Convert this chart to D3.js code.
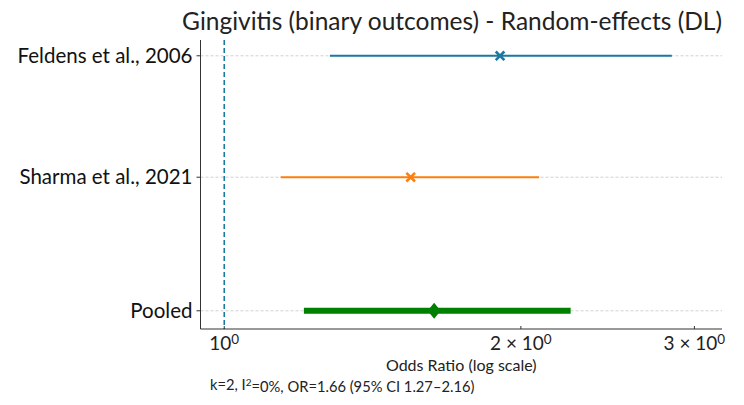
<!DOCTYPE html>
<html>
<head>
<meta charset="utf-8">
<script src="https://cdn.jsdelivr.net/npm/d3@7"></script>
<style>
  body { margin: 0; background: #fff; }
  svg { font-family: Lato, "Noto Sans", sans-serif; }
</style>
</head>
<body>
<div id="chart"></div>
<script>
"use strict";

// === DATA ===
const studies = ["Feldens et al., 2006", "Sharma et al., 2021"];
const studyOR = [1.905, 1.546];
const studyLower = [1.280, 1.141];
const studyUpper = [2.846, 2.087];
const studyColors = ["#1b78a0", "#ff7f0e"];

const pooledLabel = "Pooled";
const pooledOR = 1.633;
const pooledLower = 1.213;
const pooledUpper = 2.231;

const xTicks = [1, 2, 3];
const xTickMant = ["1", "2 × 1", "3 × 1"]; // followed by "0" and superscript "0"

const titleText = "Gingivitis (binary outcomes) - Random-effects (DL)";
const xLabel = "Odds Ratio (log scale)";
const footnote = ["k=2, I", "2", "=0%, OR=1.66 (95% CI 1.27–2.16)"];

// === SVG SETUP ===
const width = 744, height = 405;
const plot = { left: 200.5, right: 722, top: 40, bottom: 329 };

const svg = d3.select("#chart")
  .append("svg")
  .attr("width", width)
  .attr("height", height);

// === SCALES ===
const x = d3.scaleLog()
  .domain([0.946, 3.20])
  .range([plot.left, plot.right]);

const y = d3.scaleLinear()
  .domain([-0.13, 2.25])
  .range([plot.top, plot.bottom]);

const rows = studies.map((s, i) => ({
  label: s, or: studyOR[i], lo: studyLower[i], hi: studyUpper[i], color: studyColors[i], pos: i
}));
const pooledPos = studies.length + 0.1;
const allRows = rows.concat([{ label: pooledLabel, pos: pooledPos }]);

// === GRID (dashed horizontal lines) ===
svg.append("g")
  .selectAll("line")
  .data(allRows)
  .enter()
  .append("line")
  .attr("x1", plot.left)
  .attr("x2", plot.right)
  .attr("y1", d => y(d.pos))
  .attr("y2", d => y(d.pos))
  .attr("stroke", "#c4c4c4")
  .attr("stroke-width", 0.8)
  .attr("stroke-dasharray", "3,2");

// === REFERENCE LINE at OR = 1 ===
svg.append("line")
  .attr("x1", x(1))
  .attr("x2", x(1))
  .attr("y1", plot.top)
  .attr("y2", plot.bottom)
  .attr("stroke", "#1b78a0")
  .attr("stroke-width", 1.6)
  .attr("stroke-dasharray", "5,3");

// === STUDY CIs + point estimates ===
const g = svg.append("g");

g.selectAll("line.ci")
  .data(rows)
  .enter()
  .append("line")
  .attr("class", "ci")
  .attr("x1", d => x(d.lo))
  .attr("x2", d => x(d.hi))
  .attr("y1", d => y(d.pos))
  .attr("y2", d => y(d.pos))
  .attr("stroke", d => d.color)
  .attr("stroke-width", 2);

const xMark = d3.symbol().type(d3.symbolX).size(50);
g.selectAll("path.pt")
  .data(rows)
  .enter()
  .append("path")
  .attr("class", "pt")
  .attr("d", xMark)
  .attr("transform", d => `translate(${x(d.or)},${y(d.pos)})`)
  .attr("fill", "none")
  .attr("stroke", d => d.color)
  .attr("stroke-width", 2.6);

// === POOLED ===
svg.append("line")
  .attr("x1", x(pooledLower))
  .attr("x2", x(pooledUpper))
  .attr("y1", y(pooledPos))
  .attr("y2", y(pooledPos))
  .attr("stroke", "green")
  .attr("stroke-width", 6)
  .attr("stroke-linecap", "square");

svg.append("path")
  .attr("d", "M0,-8L6.5,0L0,8L-6.5,0Z")
  .attr("transform", `translate(${x(pooledOR)},${y(pooledPos)})`)
  .attr("fill", "green");

// === AXES (spines) ===
svg.append("line")
  .attr("x1", plot.left).attr("x2", plot.left)
  .attr("y1", plot.top).attr("y2", plot.bottom)
  .attr("stroke", "#333").attr("stroke-width", 1);

svg.append("line")
  .attr("x1", plot.left).attr("x2", plot.right)
  .attr("y1", plot.bottom).attr("y2", plot.bottom)
  .attr("stroke", "#333").attr("stroke-width", 1);

// y ticks + labels
const yTicks = svg.append("g");
allRows.forEach(d => {
  yTicks.append("line")
    .attr("x1", plot.left - 4).attr("x2", plot.left)
    .attr("y1", y(d.pos)).attr("y2", y(d.pos))
    .attr("stroke", "#333");
  yTicks.append("text")
    .attr("x", plot.left - 8)
    .attr("y", y(d.pos))
    .attr("dy", "0.35em")
    .attr("text-anchor", "end")
    .attr("font-size", "20.5px")
    .attr("fill", "#111")
    .text(d.label);
});

// x ticks + labels (log scale, matplotlib style)
xTicks.forEach((t, i) => {
  svg.append("line")
    .attr("x1", x(t)).attr("x2", x(t))
    .attr("y1", plot.bottom).attr("y2", plot.bottom - 3)
    .attr("stroke", "#333");
  const lbl = svg.append("text")
    .attr("x", x(t))
    .attr("y", plot.bottom + 21)
    .attr("text-anchor", "middle")
    .attr("font-size", "19px")
    .attr("fill", "#222");
  lbl.append("tspan").text(xTickMant[i] + "0");
  lbl.append("tspan").attr("dy", "-0.45em").attr("font-size", "13.5px").text("0");
});

// === LABELS ===
svg.append("text")
  .attr("x", (plot.left + plot.right) / 2)
  .attr("y", 371)
  .attr("text-anchor", "middle")
  .attr("font-size", "16px")
  .attr("fill", "#222")
  .text(xLabel);

const foot = svg.append("text")
  .attr("x", 210)
  .attr("y", 390)
  .attr("font-size", "14.7px")
  .attr("fill", "#222");
foot.append("tspan").text(footnote[0]);
foot.append("tspan").attr("dy", "-0.4em").attr("font-size", "10px").text(footnote[1]);
foot.append("tspan").attr("dy", "0.4em").text(footnote[2]);

// === TITLE ===
svg.append("text")
  .attr("x", 452)
  .attr("y", 30)
  .attr("text-anchor", "middle")
  .attr("font-size", "24.5px")
  .attr("fill", "#222")
  .text(titleText);
</script>
</body>
</html>
